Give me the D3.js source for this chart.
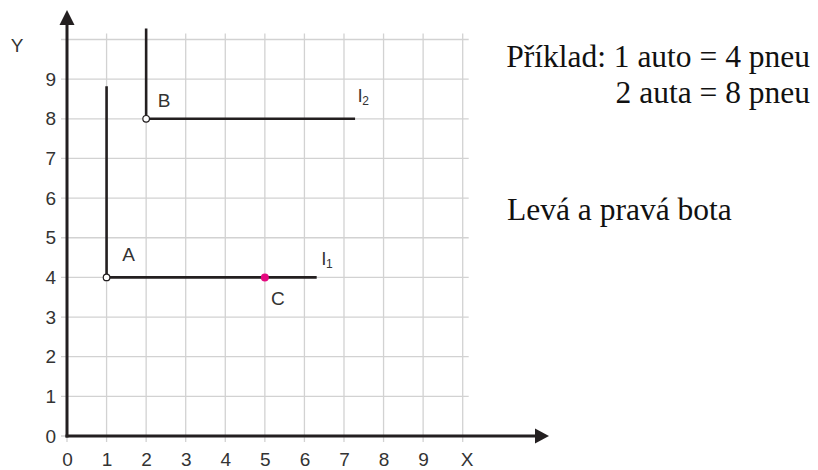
<!DOCTYPE html>
<html>
<head>
<meta charset="utf-8">
<script src="https://cdn.jsdelivr.net/npm/d3@7"></script>
<style>
body { margin: 0; background: #fff; }
svg { display: block; }
</style>
</head>
<body>
<svg width="818" height="470"></svg>
<script>
// axis ticks and grid
const xTicks = [0, 1, 2, 3, 4, 5, 6, 7, 8, 9];
const yTicks = [0, 1, 2, 3, 4, 5, 6, 7, 8, 9];
const gridValues = [0, 1, 2, 3, 4, 5, 6, 7, 8, 9, 10];

// points
const pointNames = ["A", "B", "C"];
const pointX = [1, 2, 5];
const pointY = [4, 8, 4];
const pointOpen = [true, true, false];

// the two L-shaped lines l1, l2 (corner, top of the vertical part, end of the horizontal part)
const lineNames = ["1", "2"];
const lineCornerX = [1, 2];
const lineCornerY = [4, 8];
const lineTopY = [8.82, 10.28];
const lineEndX = [6.31, 7.28];

const noteExample = ["Příklad: 1 auto = 4 pneu", "2 auta = 8 pneu"];
const noteShoes = "Levá a pravá bota";

const ink = "#231f20";
const sans = "'Liberation Sans', Arial, sans-serif";
const serif = "'Liberation Serif', 'Times New Roman', serif";

var svg = d3.select("svg");

var x = d3.scaleLinear().domain([0, 10]).range([67, 462.7]),
    y = d3.scaleLinear().domain([0, 10]).range([436, 39.5]);

// grid
svg.append("g").selectAll("line.v")
    .data(gridValues)
    .enter().append("line")
    .attr("x1", d => x(d)).attr("x2", d => x(d))
    .attr("y1", y(10) - 6).attr("y2", y(0) + 6)
    .attr("stroke", "#d2d2d2").attr("stroke-width", 1.3);

svg.append("g").selectAll("line.h")
    .data(gridValues)
    .enter().append("line")
    .attr("y1", d => y(d)).attr("y2", d => y(d))
    .attr("x1", x(0) - 6).attr("x2", x(10) + 6)
    .attr("stroke", "#d2d2d2").attr("stroke-width", 1.3);

// tick labels
var xAxis = svg.append("g")
    .attr("transform", "translate(0," + y(0) + ")")
    .call(d3.axisBottom(x).tickValues(xTicks).tickSize(0).tickPadding(17).tickFormat(d3.format("d")));
var yAxis = svg.append("g")
    .attr("transform", "translate(" + x(0) + ",0)")
    .call(d3.axisLeft(y).tickValues(yTicks).tickSize(0).tickPadding(11).tickFormat(d3.format("d")));

[xAxis, yAxis].forEach(function (a) {
    a.select(".domain").remove();
    a.selectAll("text")
        .style("font-family", sans)
        .style("font-size", "19px")
        .attr("fill", "#333");
});

// axes with arrows
svg.append("line")
    .attr("x1", x(0)).attr("y1", y(0) + 1.5)
    .attr("x2", x(0)).attr("y2", 24)
    .attr("stroke", ink).attr("stroke-width", 3);
svg.append("path")
    .attr("d", "M" + (x(0) - 7.5) + ",25L" + x(0) + ",10L" + (x(0) + 7.5) + ",25Z")
    .attr("fill", ink);

svg.append("line")
    .attr("x1", x(0) - 1.5).attr("y1", y(0))
    .attr("x2", 536).attr("y2", y(0))
    .attr("stroke", ink).attr("stroke-width", 3);
svg.append("path")
    .attr("d", "M535," + (y(0) - 7.5) + "L549," + y(0) + "L535," + (y(0) + 7.5) + "Z")
    .attr("fill", ink);

svg.append("text")
    .attr("x", 17).attr("y", 45)
    .attr("text-anchor", "middle").attr("dominant-baseline", "central")
    .style("font-family", sans).style("font-size", "19px").attr("fill", "#333")
    .text("Y");
svg.append("text")
    .attr("x", 467).attr("y", 466)
    .attr("text-anchor", "middle")
    .style("font-family", sans).style("font-size", "19px").attr("fill", "#333")
    .text("X");

// L-shaped lines
var line = d3.line().x(d => x(d[0])).y(d => y(d[1]));
lineNames.forEach(function (n, i) {
    svg.append("path")
        .attr("d", line([[lineCornerX[i], lineTopY[i]], [lineCornerX[i], lineCornerY[i]], [lineEndX[i], lineCornerY[i]]]))
        .attr("fill", "none")
        .attr("stroke", ink)
        .attr("stroke-width", 2.6);
});

var lineLabelOffset = [[5, -12], [3, -17]];
lineNames.forEach(function (n, i) {
    var t = svg.append("text")
        .attr("x", x(lineEndX[i]) + lineLabelOffset[i][0])
        .attr("y", y(lineCornerY[i]) + lineLabelOffset[i][1])
        .style("font-family", sans).style("font-size", "19px").attr("fill", "#333");
    t.append("tspan").text("l");
    t.append("tspan").attr("dy", 3).style("font-size", "12px").text(n);
});

// points
svg.append("g").selectAll("circle")
    .data(pointNames)
    .enter().append("circle")
    .attr("cx", (d, i) => x(pointX[i]))
    .attr("cy", (d, i) => y(pointY[i]))
    .attr("r", (d, i) => pointOpen[i] ? 3.3 : 4)
    .attr("fill", (d, i) => pointOpen[i] ? "#fff" : "#e5097f")
    .attr("stroke", (d, i) => pointOpen[i] ? ink : "none")
    .attr("stroke-width", 1.2);

var pointLabelOffset = [[22, -23], [18, -18], [13, 21]];
svg.append("g").selectAll("text")
    .data(pointNames)
    .enter().append("text")
    .attr("x", (d, i) => x(pointX[i]) + pointLabelOffset[i][0])
    .attr("y", (d, i) => y(pointY[i]) + pointLabelOffset[i][1])
    .attr("text-anchor", "middle").attr("dominant-baseline", "central")
    .style("font-family", sans).style("font-size", "19px").attr("fill", "#333")
    .text(d => d);

// notes on the right
svg.append("g").selectAll("text")
    .data(noteExample)
    .enter().append("text")
    .attr("x", 810)
    .attr("y", (d, i) => 67 + i * 36)
    .attr("text-anchor", "end")
    .style("font-family", serif).style("font-size", "31.5px").attr("fill", "#111")
    .text(d => d);

svg.append("text")
    .attr("x", 507).attr("y", 220)
    .style("font-family", serif).style("font-size", "31.5px").attr("fill", "#111")
    .text(noteShoes);
</script>
</body>
</html>
